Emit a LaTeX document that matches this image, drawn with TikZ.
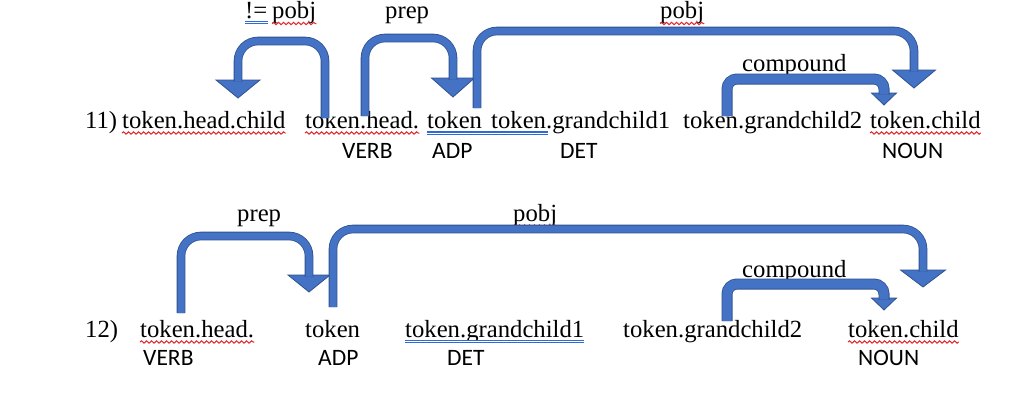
\documentclass[tikz,border=0pt]{standalone}
\usepackage{fontspec}
\setmainfont{Liberation Serif}
\setsansfont{Carlito}
\usepackage{tikz}
\usetikzlibrary{calc,decorations.pathmorphing}

\definecolor{arcfill}{HTML}{4472C4}
\definecolor{arcline}{HTML}{2F528F}
\definecolor{spellred}{HTML}{E3262E}
\definecolor{gramblue}{HTML}{2F6BD6}

\tikzset{
    word/.style={anchor=base west,inner sep=0pt,font=\fontsize{24.7}{30}\selectfont},
    tag/.style={anchor=base west,inner sep=0pt,font=\sffamily\fontsize{23.5}{28}\selectfont},
    bigarc/.style={draw=arcfill,line width=7pt,rounded corners=20pt,
        preaction={draw=arcline,line width=8.6pt}},
    smallarc/.style={draw=arcfill,line width=9.4pt,rounded corners=10pt,
        preaction={draw=arcline,line width=11pt}},
    tiphead/.style={fill=arcfill,draw=arcline,line width=0.8pt,line join=miter},
    squiggle/.style={spellred,line width=1pt,decorate,
        decoration={snake,amplitude=1.2pt,segment length=5pt}},
    dblline/.style={draw=gramblue,line width=1.1pt,double=white,double distance=0.9pt}
}

% bent arc: foot, top y, tip, head length, head half width, style
\newcommand{\deparc}[6]{%
    \filldraw[tiphead] (#3) -- ++(-#5,-#4) -- ++(2*#5,0) -- cycle;
    \draw[#6] (#1) -- (#1 |- 0,#2) -| ($(#3)+(0,-#4+1.5)$);
}

\begin{document}
\begin{tikzpicture}[x=1pt,y=-1pt]
    \useasboundingbox[fill=white] (0,0) rectangle (1028,402);

    % Sentence 11
    \foreach \nm/\x/\txt in {n11/85/11), hc1/122/token.head.child, hd1/305/token.head.,
            tk1/427/token, ga1/491/token.grandchild1, gb1/683/token.grandchild2,
            ch1/870/token.child}
        \node[word] (\nm) at (\x,128) {\txt};
    \foreach \nm/\x/\txt in {vb1/342/VERB, ad1/432/ADP, dt1/560/DET, nn1/882/NOUN}
        \node[tag] (\nm) at (\x,158) {\txt};

    % Sentence 12
    \foreach \nm/\x/\txt in {n12/85/12), hd2/140/token.head., tk2/305/token,
            ga2/405/token.grandchild1, gb2/623/token.grandchild2, ch2/848/token.child}
        \node[word] (\nm) at (\x,337) {\txt};
    \foreach \nm/\x/\txt in {vb2/143/VERB, ad2/318/ADP, dt2/447/DET, nn2/858/NOUN}
        \node[tag] (\nm) at (\x,365) {\txt};

    % Arc labels
    \node[word] (ne1) at (245,18.5) {!=};
    \node[word] (lpa) at (272,18.5) {pobj};
    \node[word] (lpr) at (385,18.5) {prep};
    \node[word] (lpb) at (660,18.5) {pobj};
    \node[word] (lcm) at (742,71) {compound};
    \node[word] (lpr2) at (237,221) {prep};
    \node[word] (lpb2) at (513,221) {pobj};
    \node[word] (lcm2) at (742,277) {compound};

    % Spelling marks
    \foreach \w in {lpa,hc1,hd1,lpb,ch1,hd2,lpb2,ch2}
        \draw[squiggle] ([yshift=-5pt]\w.base west) -- ([yshift=-5pt]\w.base east);
    \draw[dblline] ([yshift=-4pt]ne1.base west) -- ([yshift=-4pt]ne1.base east);
    \draw[dblline] ([yshift=-5pt]tk1.base west) -- ([xshift=57pt,yshift=-5pt]ga1.base west);
    \draw[dblline] ([yshift=-4.5pt]ga2.base west) -- ([yshift=-4.5pt]ga2.base east);

    % Arc ends
    \coordinate (f1) at (325,118);  \coordinate (t1) at (238,98);
    \coordinate (f2) at (365,116);  \coordinate (t2) at (453,97);
    \coordinate (f3) at (477,108);  \coordinate (t3) at (914,88);
    \coordinate (f4) at (727,116);  \coordinate (t4) at (884,105);
    \coordinate (f5) at (181,313);  \coordinate (t5) at (309,292);
    \coordinate (f6) at (333,307);  \coordinate (t6) at (923,287);
    \coordinate (f7) at (727,321);  \coordinate (t7) at (884,310);

    % Arcs
    \deparc{f1}{41}{t1}{18}{22}{bigarc}
    \deparc{f2}{38}{t2}{19}{21.5}{bigarc}
    \deparc{f3}{31}{t3}{18}{21.5}{bigarc}
    \deparc{f4}{79}{t4}{12}{12.5}{smallarc}
    \deparc{f5}{236}{t5}{17}{21}{bigarc}
    \deparc{f6}{229}{t6}{17}{22.5}{bigarc}
    \deparc{f7}{284}{t7}{12}{12.5}{smallarc}
\end{tikzpicture}
\end{document}
